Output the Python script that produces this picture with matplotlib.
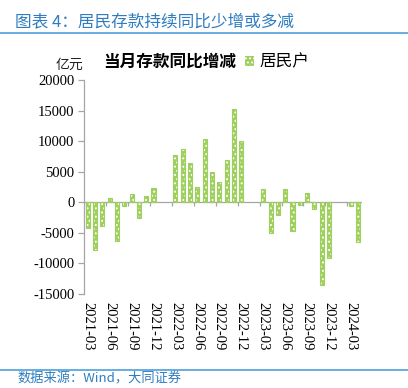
import numpy as np
import matplotlib
matplotlib.use("Agg")
import matplotlib.pyplot as plt
from matplotlib.patches import Patch

# Monthly YoY change in household deposits (100 million yuan)
# Jan/Feb are not reported separately, so they stay empty

plt.rcParams['axes.unicode_minus'] = False

CJK = ['Noto Sans CJK SC', 'DejaVu Sans']
NUM_FONT = 'Liberation Serif'
BAR_CLR = '#9fd05e'
BLUE = '#2f7dc0'
AXIS_CLR = '#a6a6a6'

months = [
    "2021-03", "2021-04", "2021-05", "2021-06", "2021-07", "2021-08",
    "2021-09", "2021-10", "2021-11", "2021-12", "2022-01", "2022-02",
    "2022-03", "2022-04", "2022-05", "2022-06", "2022-07", "2022-08",
    "2022-09", "2022-10", "2022-11", "2022-12", "2023-01", "2023-02",
    "2023-03", "2023-04", "2023-05", "2023-06", "2023-07", "2023-08",
    "2023-09", "2023-10", "2023-11", "2023-12", "2024-01", "2024-02",
    "2024-03", "2024-04",
]

household = [
    -4200, -7850, -3800, 650, -6400, -600,
    1300, -2550, 1100, 2280, np.nan, np.nan,
    7720, 8750, 6470, 2450, 10270, 5000,
    3260, 6960, 15270, 10050, np.nan, np.nan,
    2120, -5000, -2010, 2120, -4650, -400,
    1550, -1150, -13480, -9150, np.nan, np.nan,
    -650, -6480,
]

tick_labels = months[::3]
y_ticks = [-15000, -10000, -5000, 0, 5000, 10000, 15000, 20000]

W, H = 408, 388
fig = plt.figure(figsize=(W / 100, H / 100), dpi=100)
ax = fig.add_axes([84 / W, 1 - 294 / H, (362 - 84) / W, (294 - 80) / H])

x = np.arange(len(months))
vals = np.array(household, dtype=float)
ok = ~np.isnan(vals)

# bar body, white dotted hatch, then the outline on top
ax.bar(x[ok], vals[ok], width=0.55, color=BAR_CLR, linewidth=0, zorder=2)
plt.rcParams['hatch.linewidth'] = 0.9
ax.bar(x[ok], vals[ok], width=0.55, facecolor='none', edgecolor='white',
       hatch='....', linewidth=0, zorder=3)
ax.bar(x[ok], vals[ok], width=0.55, facecolor='none', edgecolor=BAR_CLR,
       linewidth=0.8, zorder=4)

# category axis sits at zero, tick marks between categories every 3 months
ax.axhline(0, color=AXIS_CLR, linewidth=0.9, zorder=1)
bounds = np.arange(-0.5, len(months), 3)
ax.vlines(bounds, -650, 0, color=AXIS_CLR, linewidth=0.9, zorder=1)

ax.set_xlim(-0.5, len(months) - 0.5)
ax.set_ylim(-15000, 20000)

ax.set_xticks(x[::3])
ax.set_xticklabels(tick_labels, rotation=-90, fontfamily=NUM_FONT, fontsize=10.5)
ax.tick_params(axis='x', length=0, pad=6)

ax.set_yticks(y_ticks)
ax.set_yticklabels([str(v) for v in y_ticks], fontfamily=NUM_FONT, fontsize=10.5)
ax.tick_params(axis='y', length=4, width=0.9, color=AXIS_CLR, pad=3)

for side in ['top', 'right', 'bottom']:
    ax.spines[side].set_visible(False)
ax.spines['left'].set_color(AXIS_CLR)
ax.spines['left'].set_linewidth(0.9)

# Header, unit, chart title and legend
fig.text(15 / W, 1 - 22 / H, "图表 4：居民存款持续同比少增或多减", family=CJK,
         fontsize=12, color=BLUE, va='center', ha='left')
fig.add_artist(plt.Line2D([0, 1], [1 - 33 / H, 1 - 33 / H], color='#5aa7dc',
                          linewidth=1.3, transform=fig.transFigure))
fig.text(83 / W, 1 - 65 / H, "亿元", family=CJK, fontsize=10, color='#222222',
         va='center', ha='right')
fig.text(103 / W, 1 - 62 / H, "当月存款同比增减", family=CJK, fontsize=12,
         color='black', va='center', ha='left', weight='bold')
handle = Patch(facecolor=BAR_CLR, edgecolor='white', hatch='....', linewidth=0)
ax.legend([handle], ["居民户"], loc='center left',
          bbox_to_anchor=(245 / W, 1 - 62 / H), bbox_transform=fig.transFigure,
          frameon=False, prop={'family': CJK, 'size': 12},
          handlelength=0.55, handleheight=0.55, handletextpad=0.3, borderpad=0,
          borderaxespad=0)

# Footer
fig.add_artist(plt.Line2D([0, 1], [1 - 370 / H, 1 - 370 / H], color='#5aa7dc',
                          linewidth=1.3, transform=fig.transFigure))
fig.text(17 / W, 1 - 373 / H, "数据来源：Wind，大同证券", family=CJK, fontsize=9.5,
         color=BLUE, va='top', ha='left', style='italic')

fig.savefig("out.png", dpi=100)
